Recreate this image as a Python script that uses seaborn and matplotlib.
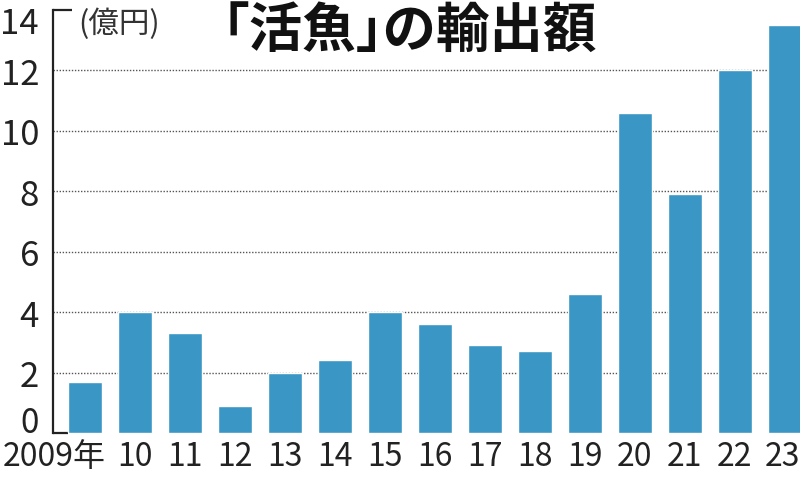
import matplotlib
matplotlib.use("Agg")
import matplotlib.pyplot as plt
import matplotlib.transforms as mtransforms
import seaborn as sns
import pandas as pd

years = ["2009年", "10", "11", "12", "13", "14", "15", "16", "17", "18",
         "19", "20", "21", "22", "23"]
values = [1.7, 4.0, 3.3, 0.9, 2.0, 2.4, 4.0, 3.6, 2.9, 2.7,
          4.6, 10.6, 7.9, 12.0, 13.5]
yticks = [0, 2, 4, 6, 8, 10, 12, 14]
title = "｢活魚｣の輸出額"
unit = "(億円)"

sns.set_style("white")
plt.rcParams["font.family"] = ["Noto Sans CJK JP", "DejaVu Sans"]

df = pd.DataFrame({"year": years, "value": values})

fig = plt.figure(figsize=(8, 4.81), dpi=100)
ax = fig.add_axes([53 / 800, 47 / 481, 1 - 53 / 800, (434 - 11) / 481])

sns.barplot(data=df, x="year", y="value", color="#3a96c5", saturation=1,
            width=0.68, ax=ax, zorder=3)

ax.set_xlim(-0.64, 14.3)
ax.set_ylim(0, 14)
ax.set_yticks(yticks)
ax.set_yticklabels([str(t) for t in yticks])
for t in yticks[1:-1]:
    ax.axhline(t, color="#555555", lw=1.0, ls=(0, (1, 1.2)), zorder=1)

for s in ["top", "right", "bottom"]:
    ax.spines[s].set_visible(False)
ax.spines["left"].set_color("#222222")
ax.spines["left"].set_linewidth(1.6)

# small stubs at top and bottom of the axis line
ax.plot([0, 19 / 747], [1, 1], transform=ax.transAxes, color="#222222",
        lw=1.6, clip_on=False, solid_capstyle="butt")
ax.plot([0, 15 / 747], [0, 0], transform=ax.transAxes, color="#222222",
        lw=1.6, clip_on=False, solid_capstyle="butt")

ax.set_xlabel("")
ax.set_ylabel("")
ax.tick_params(axis="both", length=0, colors="#222222")
ax.tick_params(axis="x", labelsize=23, pad=5)
ax.tick_params(axis="y", labelsize=25, pad=10)

ylabs = ax.get_yticklabels()
ylabs[0].set_fontsize(24)
ylabs[0].set_transform(ylabs[0].get_transform() +
                       mtransforms.ScaledTranslation(0, 14 / 100, fig.dpi_scale_trans))
ylabs[-1].set_transform(ylabs[-1].get_transform() +
                        mtransforms.ScaledTranslation(0, -9 / 100, fig.dpi_scale_trans))

xlabs = ax.get_xticklabels()
xlabs[0].set_ha("right")
xlabs[0].set_transform(xlabs[0].get_transform() +
                       mtransforms.ScaledTranslation(21 / 100, 0, fig.dpi_scale_trans))
xlabs[-1].set_transform(xlabs[-1].get_transform() +
                        mtransforms.ScaledTranslation(-3 / 100, 0, fig.dpi_scale_trans))

fig.text(78 / 800, 1 - 24 / 481, unit, fontsize=22, color="#333333",
         ha="left", va="center")
fig.text(410 / 800, 1 - 31 / 481, title, fontsize=38.5, fontweight="bold",
         color="#111111", ha="center", va="center")

fig.savefig("out.png", dpi=100)
